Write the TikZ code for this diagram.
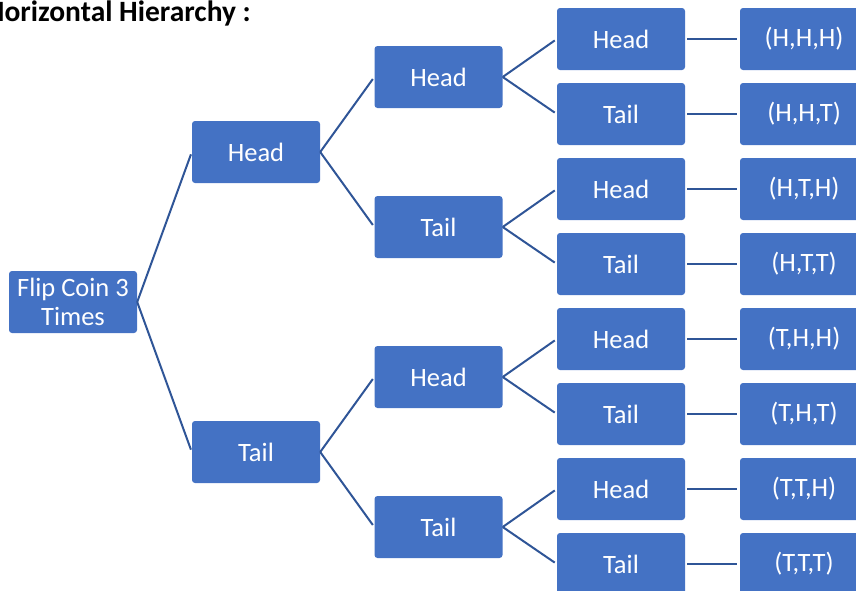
\documentclass[tikz,border=0pt]{standalone}
\usepackage{fontspec}
\setmainfont{Carlito}
\definecolor{boxblue}{HTML}{4472C4}
\definecolor{lineblue}{HTML}{2F5597}
\begin{document}
\begin{tikzpicture}[x=1pt,y=-1pt,
  box/.style={fill=boxblue, rounded corners=3pt, minimum width=128pt,
    minimum height=62pt, text=white, align=center, inner sep=0pt,
    font=\fontsize{26.5}{29}\selectfont},
  link/.style={draw=lineblue, line width=2pt, shorten >=2.5pt}]
\useasboundingbox (0,0) rectangle (856,590);
\clip (0,0) rectangle (856,590);

% title
\node[anchor=base east, inner sep=0pt, font=\bfseries\fontsize{29.5}{34}\selectfont]
  (title) at (251,21) {Horizontal Hierarchy :};

% root
\node[box] (root) at (73,302) {Flip Coin 3\\Times};

% first toss
\node[box] (h) at (256,152) {Head};
\node[box] (t) at (256,452) {Tail};

% second toss
\node[box] (hh) at (438.5,77)  {Head};
\node[box] (ht) at (438.5,227) {Tail};
\node[box] (th) at (438.5,377) {Head};
\node[box] (tt) at (438.5,527) {Tail};

% third toss
\node[box] (hhh) at (621,39)  {Head};
\node[box] (hht) at (621,114) {Tail};
\node[box] (hth) at (621,189) {Head};
\node[box] (htt) at (621,264) {Tail};
\node[box] (thh) at (621,339) {Head};
\node[box] (tht) at (621,414) {Tail};
\node[box] (tth) at (621,489) {Head};
\node[box] (ttt) at (621,564) {Tail};

% outcomes
\node[box] (rhhh) at (804,39)  {(H,H,H)};
\node[box] (rhht) at (804,114) {(H,H,T)};
\node[box] (rhth) at (804,189) {(H,T,H)};
\node[box] (rhtt) at (804,264) {(H,T,T)};
\node[box] (rthh) at (804,339) {(T,H,H)};
\node[box] (rtht) at (804,414) {(T,H,T)};
\node[box] (rtth) at (804,489) {(T,T,H)};
\node[box] (rttt) at (804,564) {(T,T,T)};

% branches
\draw[link] (root.east) -- (h.west);
\draw[link] (root.east) -- (t.west);
\foreach \p/\a/\b in {h/hh/ht, t/th/tt, hh/hhh/hht, ht/hth/htt, th/thh/tht, tt/tth/ttt}{
  \draw[link] (\p.east) -- (\a.west);
  \draw[link] (\p.east) -- (\b.west);
}
\foreach \a in {hhh,hht,hth,htt,thh,tht,tth,ttt}{
  \draw[link, shorten <=2pt] (\a.east) -- (r\a.west);
}
\end{tikzpicture}
\end{document}
